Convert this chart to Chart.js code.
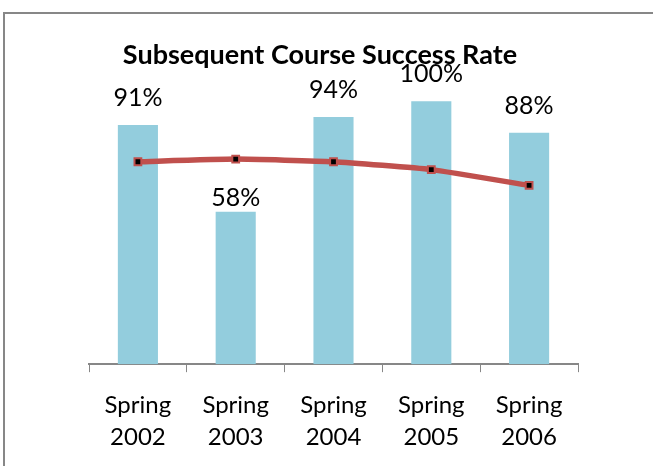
<!DOCTYPE html>
<html>
<head>
<meta charset="utf-8">
<title>Subsequent Course Success Rate</title>
<script src="https://cdn.jsdelivr.net/npm/chart.js@4"></script>
<style>
    html, body { margin: 0; padding: 0; background: #fff; overflow: hidden; }
    #wrap { position: relative; width: 653px; height: 466px; }
</style>
</head>
<body>
<div id="wrap"><canvas id="success_chart" width="653" height="466"></canvas></div>
<script>
// categories and values
const terms = [['Spring', '2002'], ['Spring', '2003'], ['Spring', '2004'], ['Spring', '2005'], ['Spring', '2006']];
const successRate = [91, 58, 94, 100, 88];
const trendRate = [77, 78, 77, 74, 68];
const rateLabels = ['91%', '58%', '94%', '100%', '88%'];
const chartTitle = 'Subsequent Course Success Rate';

// frame around the chart (open on the right and bottom) plus the title
const framePlugin = {
    id: 'frame',
    beforeDraw(chart, args, opts) {
        const c = chart.ctx;
        c.save();
        c.strokeStyle = '#878787';
        c.lineWidth = 2;
        c.beginPath();
        c.moveTo(4, chart.height + 5);
        c.lineTo(4, 13);
        c.lineTo(chart.width + 5, 13);
        c.stroke();

        c.font = opts.titleFont;
        c.fillStyle = '#000';
        c.textAlign = 'center';
        c.textBaseline = 'middle';
        c.fillText(chartTitle, opts.titleX, opts.titleY);
        c.restore();
    }
};

// value labels above the bars
const barLabels = {
    id: 'barLabels',
    afterDatasetsDraw(chart, args, opts) {
        const c = chart.ctx;
        const meta = chart.getDatasetMeta(1);
        c.save();
        c.font = opts.font;
        c.fillStyle = '#000';
        c.textAlign = 'center';
        c.textBaseline = 'middle';
        meta.data.forEach(function(bar, i) {
            c.fillText(rateLabels[i], bar.x, bar.y - opts.lift[i]);
        });
        c.restore();
    }
};

const ctx = document.getElementById('success_chart');
const chart = new Chart(ctx, {
    type: 'bar',
    data: {
        labels: terms,
        datasets: [{
            type: 'line',
            data: trendRate,
            borderColor: '#C0504D',
            borderWidth: 5.5,
            pointStyle: 'rect',
            pointRadius: 4.8,
            pointBackgroundColor: '#000',
            pointBorderColor: '#C0504D',
            pointBorderWidth: 2,
            tension: 0.15,
            order: 0
        }, {
            type: 'bar',
            data: successRate,
            backgroundColor: '#93CDDD',
            barPercentage: 1,
            categoryPercentage: 0.41,
            order: 1
        }]
    },
    options: {
        responsive: false,
        animation: false,
        layout: { padding: { left: 89, right: 75, top: 75, bottom: -4 } },
        plugins: {
            legend: { display: false },
            tooltip: { enabled: false },
            title: { display: false },
            frame: {
                titleFont: 'bold 27px Lato',
                titleX: 320,
                titleY: 55
            },
            barLabels: {
                font: '25px Lato',
                lift: [27, 14, 27, 27, 27]
            }
        },
        scales: {
            x: {
                grid: { drawOnChartArea: false, tickLength: 8, color: '#878787', offset: true },
                border: { color: '#878787', width: 2 },
                ticks: {
                    color: '#000',
                    font: { family: 'Lato', size: 24, lineHeight: 1.33 },
                    padding: 17,
                    maxRotation: 0
                }
            },
            y: {
                display: false,
                min: 0,
                max: 110
            }
        }
    },
    plugins: [framePlugin, barLabels]
});
</script>
</body>
</html>
